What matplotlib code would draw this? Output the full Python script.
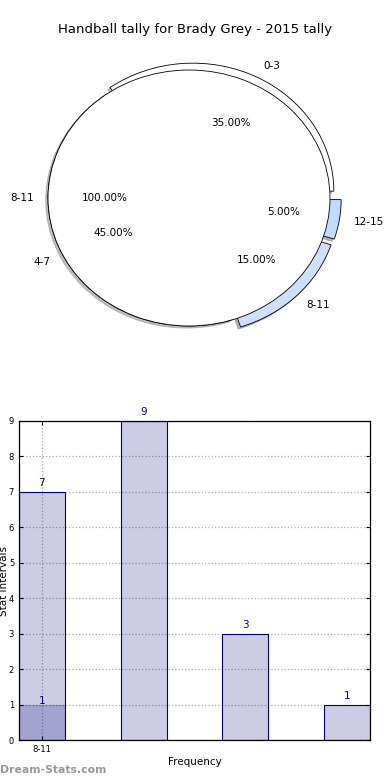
import matplotlib
matplotlib.use("Agg")
import matplotlib.pyplot as plt

# pie data
ring_labels = ["0-3", "4-7", "8-11", "12-15"]
ring_values = [7, 9, 3, 1]
ring_colors = ["#ffffff", "#ffffff", "#cddffc", "#bfdbfe"]
ring_explode = [0.06, 0.0, 0.08, 0.08]
inner_labels = ["8-11"]
inner_values = [1]

# bar data
bar_values = [7, 9, 3, 1]
overlay_values = [1]
tick_labels = ["8-11"]

fig = plt.figure(figsize=(3.9, 7.8), dpi=100)
fig.text(0.5, 1 - 30 / 780, "Handball tally for Brady Grey - 2015 tally",
         ha="center", va="center", fontsize=9.5)

# pie: ellipse centre at (189, 198) px, 141 px/unit wide, 128 px/unit tall
ax1 = fig.add_axes([5.7 / 390, 415.6 / 780, 366.6 / 390, 332.8 / 780])
ax1.pie(ring_values, labels=ring_labels, colors=ring_colors, explode=ring_explode,
        autopct="%.2f%%", pctdistance=0.6, labeldistance=1.1,
        shadow={"ox": -0.012, "oy": -0.012, "shade": 0.5},
        wedgeprops={"edgecolor": "black", "linewidth": 0.6},
        textprops={"fontsize": 7.5})
ax1.pie(inner_values, labels=inner_labels, colors=["#ffffff"], radius=1.0,
        autopct="%.2f%%", pctdistance=0.6, labeldistance=1.1,
        wedgeprops={"edgecolor": "black", "linewidth": 0.6},
        textprops={"fontsize": 7.5})
ax1.set_aspect("auto")
ax1.set_xlim(-1.3, 1.3)
ax1.set_ylim(-1.3, 1.3)
ax1.axis("off")

# bars
ax2 = fig.add_axes([19 / 390, 40 / 780, 351 / 390, 319 / 780])
xs = range(len(bar_values))
ax2.bar(xs, bar_values, width=0.45, align="edge", color="navy", alpha=0.2,
        edgecolor="none")
ax2.bar(xs, bar_values, width=0.45, align="edge", fill=False, edgecolor="navy",
        linewidth=0.8)
ax2.bar(range(len(overlay_values)), overlay_values, width=0.45, align="edge",
        color="navy", alpha=0.2, edgecolor="navy", linewidth=0.8)
for x, v in zip(xs, bar_values):
    ax2.text(x + 0.225, v + 0.1, str(v), ha="center", va="bottom", color="navy", fontsize=7.5)
for x, v in enumerate(overlay_values):
    ax2.text(x + 0.225, v - 0.05, str(v), ha="center", va="bottom", color="navy", fontsize=7.5)

ax2.set_xlim(0, 3.45)
ax2.set_ylim(0, 9)
ax2.set_yticks(range(10))
ax2.set_xticks([0.225 + i for i in range(len(tick_labels))], tick_labels)
ax2.tick_params(labelsize=6, direction="in", right=True, top=True, length=3)
ax2.grid(True, linestyle=":", color="#aaaaaa", linewidth=0.9)
ax2.set_axisbelow(True)
ax2.set_xlabel("Frequency", fontsize=7.5, labelpad=2)
ax2.set_ylabel("Stat Intervals", fontsize=7.5)
ax2.yaxis.set_label_coords(-0.028, 0.5)
for s in ax2.spines.values():
    s.set_linewidth(0.9)

fig.text(0.0, 1 - 770 / 780, "Dream-Stats.com", ha="left", va="center",
         fontsize=7.8, color="#999999", fontweight="bold")

fig.savefig("out.png", dpi=100)
